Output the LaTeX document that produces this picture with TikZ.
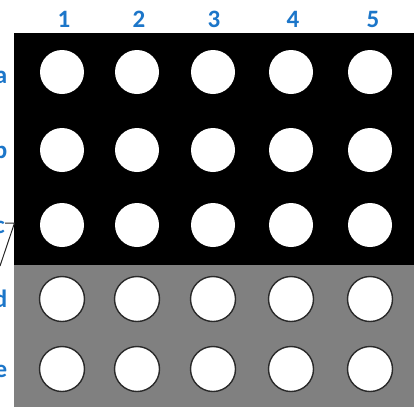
\documentclass[tikz,border=0pt]{standalone}
\usepackage{fontspec}
\setmainfont{Carlito}
\definecolor{lblue}{HTML}{1C76C9}
\definecolor{plategray}{HTML}{808080}
\definecolor{rimgray}{HTML}{2A2A2A}
\tikzset{
  hole/.style={circle, fill=white, inner sep=0pt, minimum size=44pt},
  holeg/.style={circle, fill=white, draw=rimgray, line width=1.4pt, inner sep=0pt, minimum size=45pt},
  lbl/.style={text=lblue, font=\fontsize{25}{25}\selectfont\bfseries, inner sep=0pt},
  lead/.style={draw=black!85, line width=1pt}
}
\begin{document}
\begin{tikzpicture}[x=1pt,y=-1pt]
\useasboundingbox (0,0) rectangle (414,407);
\fill[black] (14,33) rectangle (414,265);
\fill[plategray] (14,265) rectangle (414,407);
% column labels
\node[lbl, anchor=base] (n1) at (64,27) {1};
\node[lbl, anchor=base] (n2) at (139,27) {2};
\node[lbl, anchor=base] (n3) at (214,27) {3};
\node[lbl, anchor=base] (n4) at (293,27) {4};
\node[lbl, anchor=base] (n5) at (373,27) {5};
% row labels
\node[lbl, anchor=base east] (ra) at (7.5,83) {a};
\node[lbl, anchor=base east] (rb) at (7.5,158) {b};
\node[lbl, anchor=base east] (rc) at (5,233) {c};
\node[lbl, anchor=base east] (rd) at (7.5,307) {d};
\node[lbl, anchor=base east] (re) at (7.5,377) {e};
% holes
\foreach \r/\y in {a/72,b/150,c/225}{
  \foreach \c/\x in {1/62,2/137,3/213,4/291,5/370}{
    \node[hole] (h\r\c) at (\x,\y) {};
  }
}
\foreach \r/\y in {d/299,e/369}{
  \foreach \c/\x in {1/62,2/137,3/213,4/291,5/370}{
    \node[holeg] (h\r\c) at (\x,\y) {};
  }
}
% leader line from c
\coordinate (cA) at (5,223);
\coordinate (cB) at (14.5,223);
\coordinate (cC) at (0,266);
\draw[lead] (cA) -- (cB) -- (cC);
\end{tikzpicture}
\end{document}
